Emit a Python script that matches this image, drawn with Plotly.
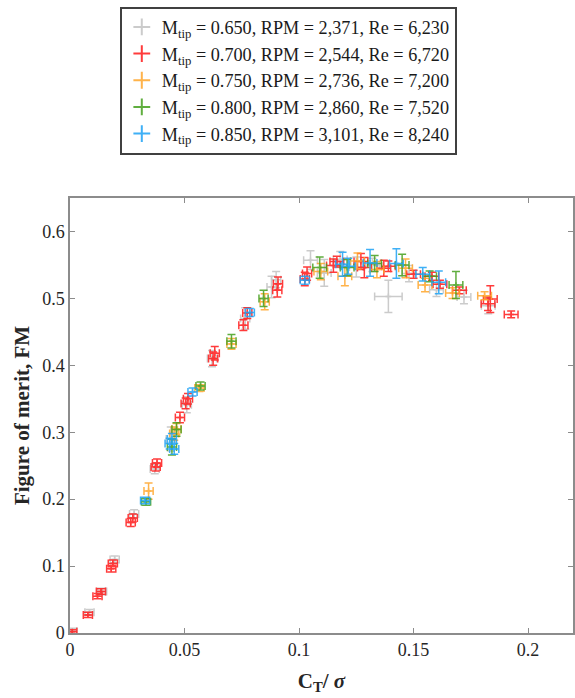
import plotly.graph_objects as go

# ---------------- data ----------------
names = [
    "M<sub>tip</sub> = 0.650, RPM = 2,371, Re = 6,230",
    "M<sub>tip</sub> = 0.700, RPM = 2,544, Re = 6,720",
    "M<sub>tip</sub> = 0.750, RPM = 2,736, Re = 7,200",
    "M<sub>tip</sub> = 0.800, RPM = 2,860, Re = 7,520",
    "M<sub>tip</sub> = 0.850, RPM = 3,101, Re = 8,240",
]
colors = ["#c3c3c3", "#ff1a1a", "#ffa62b", "#45a01e", "#1ea3f5"]

gray_x = [0.001, 0.0085, 0.014, 0.0195, 0.028, 0.037, 0.044, 0.051, 0.062, 0.0765, 0.088, 0.090,
          0.105, 0.111, 0.118, 0.125, 0.132, 0.139, 0.148, 0.160, 0.172, 0.1826]
gray_y = [0.003, 0.031, 0.062, 0.110, 0.178, 0.245, 0.290, 0.341, 0.410, 0.470, 0.517, 0.528,
          0.557, 0.538, 0.558, 0.547, 0.550, 0.503, 0.537, 0.513, 0.502, 0.489]
gray_ex = [0.002, 0.002, 0.002, 0.002, 0.002, 0.002, 0.002, 0.002, 0.002, 0.002, 0.002, 0.002,
           0.003, 0.003, 0.003, 0.003, 0.003, 0.006, 0.003, 0.003, 0.003, 0.003]
gray_ey = [0.004, 0.004, 0.005, 0.005, 0.006, 0.007, 0.018, 0.012, 0.012, 0.016, 0.016, 0.012,
           0.014, 0.020, 0.012, 0.015, 0.010, 0.024, 0.012, 0.010, 0.010, 0.012]

red_x = [0.001, 0.0078, 0.012, 0.0135, 0.018, 0.0187, 0.0265, 0.0274, 0.0374, 0.038, 0.048,
         0.0505, 0.0515, 0.0625, 0.0632, 0.0757, 0.0774, 0.0905, 0.0908, 0.1025, 0.1035, 0.115,
         0.1165, 0.127, 0.1285, 0.137, 0.139, 0.150, 0.158, 0.1615, 0.170, 0.1825, 0.1835, 0.1926]
red_y = [0.002, 0.027, 0.055, 0.062, 0.096, 0.104, 0.165, 0.172, 0.248, 0.254, 0.322,
         0.343, 0.350, 0.410, 0.418, 0.460, 0.478, 0.512, 0.522, 0.529, 0.537, 0.549,
         0.555, 0.555, 0.546, 0.545, 0.548, 0.536, 0.533, 0.521, 0.512, 0.492, 0.499, 0.476]
red_ex = [0.002] * 21 + [0.003] * 13
red_ey = [0.003, 0.004, 0.004, 0.004, 0.005, 0.005, 0.006, 0.006, 0.006, 0.006, 0.008,
          0.008, 0.008, 0.010, 0.010, 0.008, 0.008, 0.010, 0.010, 0.010, 0.010, 0.010,
          0.008, 0.012, 0.015, 0.012, 0.008, 0.006, 0.006, 0.006, 0.005, 0.010, 0.020, 0.005]

orange_x = [0.0343, 0.0455, 0.0465, 0.0565, 0.0705, 0.0850, 0.1095, 0.120, 0.1255, 0.134,
            0.1465, 0.155, 0.167, 0.181]
orange_y = [0.212, 0.298, 0.305, 0.366, 0.432, 0.495, 0.540, 0.533, 0.556, 0.543,
            0.545, 0.520, 0.508, 0.504]
orange_ex = [0.002] * 6 + [0.003] * 8
orange_ey = [0.012, 0.010, 0.008, 0.005, 0.008, 0.012, 0.012, 0.014, 0.012, 0.012,
             0.014, 0.010, 0.008, 0.006]

green_x = [0.0332, 0.0445, 0.0465, 0.057, 0.0705, 0.0845, 0.109, 0.121, 0.133, 0.145, 0.157, 0.1685]
green_y = [0.196, 0.278, 0.304, 0.369, 0.436, 0.500, 0.546, 0.546, 0.552, 0.550, 0.533, 0.520]
green_ex = [0.002] * 6 + [0.003] * 6
green_ey = [0.005, 0.012, 0.010, 0.006, 0.010, 0.012, 0.016, 0.012, 0.012, 0.016, 0.008, 0.020]

blue_x = [0.0328, 0.0435, 0.0445, 0.0455, 0.0535, 0.0785, 0.1025, 0.119, 0.1215, 0.131,
          0.1425, 0.154, 0.161]
blue_y = [0.198, 0.283, 0.290, 0.275, 0.360, 0.479, 0.527, 0.551, 0.548, 0.553,
          0.552, 0.536, 0.524]
blue_ex = [0.002] * 7 + [0.003] * 6
blue_ey = [0.005, 0.008, 0.008, 0.008, 0.006, 0.006, 0.006, 0.018, 0.012, 0.020,
           0.022, 0.010, 0.017]

series = [
    (gray_x, gray_y, gray_ex, gray_ey),
    (red_x, red_y, red_ex, red_ey),
    (orange_x, orange_y, orange_ex, orange_ey),
    (green_x, green_y, green_ex, green_ey),
    (blue_x, blue_y, blue_ex, blue_ey),
]

# ---------------- figure ----------------
fig = go.Figure()
for name, col, (xs, ys, exs, eys) in zip(names, colors, series):
    fig.add_trace(go.Scatter(
        x=xs, y=ys, mode="markers", name=name,
        marker=dict(symbol="cross-thin", size=4, color=col, line=dict(color=col, width=1.5)),
        error_x=dict(type="data", array=exs, color=col, thickness=1.5, width=4),
        error_y=dict(type="data", array=eys, color=col, thickness=1.5, width=4),
        opacity=0.85,
    ))

font_family = "Liberation Serif"
axis_common = dict(
    showline=True, linecolor="#8c8c8c", linewidth=1.5, mirror="ticks",
    ticks="inside", ticklen=5, tickcolor="#8c8c8c", tickwidth=1,
    showgrid=False, zeroline=False,
    tickfont=dict(family=font_family, size=18, color="#262626"),
)
fig.update_layout(
    width=575, height=698,
    margin=dict(l=70, r=0, t=198, b=65),
    paper_bgcolor="white", plot_bgcolor="white",
    font=dict(family=font_family, color="#262626"),
    xaxis=dict(range=[0, 0.2196], tickvals=[0, 0.05, 0.1, 0.15, 0.2],
               ticktext=["0", "0.05", "0.1", "0.15", "0.2"],
               title=dict(text="<b>C<sub>T</sub>/ <i>σ</i></b>",
                          font=dict(family=font_family, size=21, color="#262626"), standoff=14),
               **axis_common),
    yaxis=dict(range=[0, 0.65], tickvals=[0, 0.1, 0.2, 0.3, 0.4, 0.5, 0.6],
               ticktext=["0", "0.1", "0.2", "0.3", "0.4", "0.5", "0.6"],
               title=dict(text="<b>Figure of merit, FM</b>",
                          font=dict(family=font_family, size=21, color="#262626"), standoff=7),
               **axis_common),
    legend=dict(
        x=0.099, y=1.44, xanchor="left", yanchor="top",
        bordercolor="#404040", borderwidth=2, bgcolor="white",
        font=dict(family=font_family, size=18.2, color="#1a1a1a"),
        itemsizing="constant", tracegroupgap=0,
    ),
    showlegend=True,
)

fig.write_html("out.html")
